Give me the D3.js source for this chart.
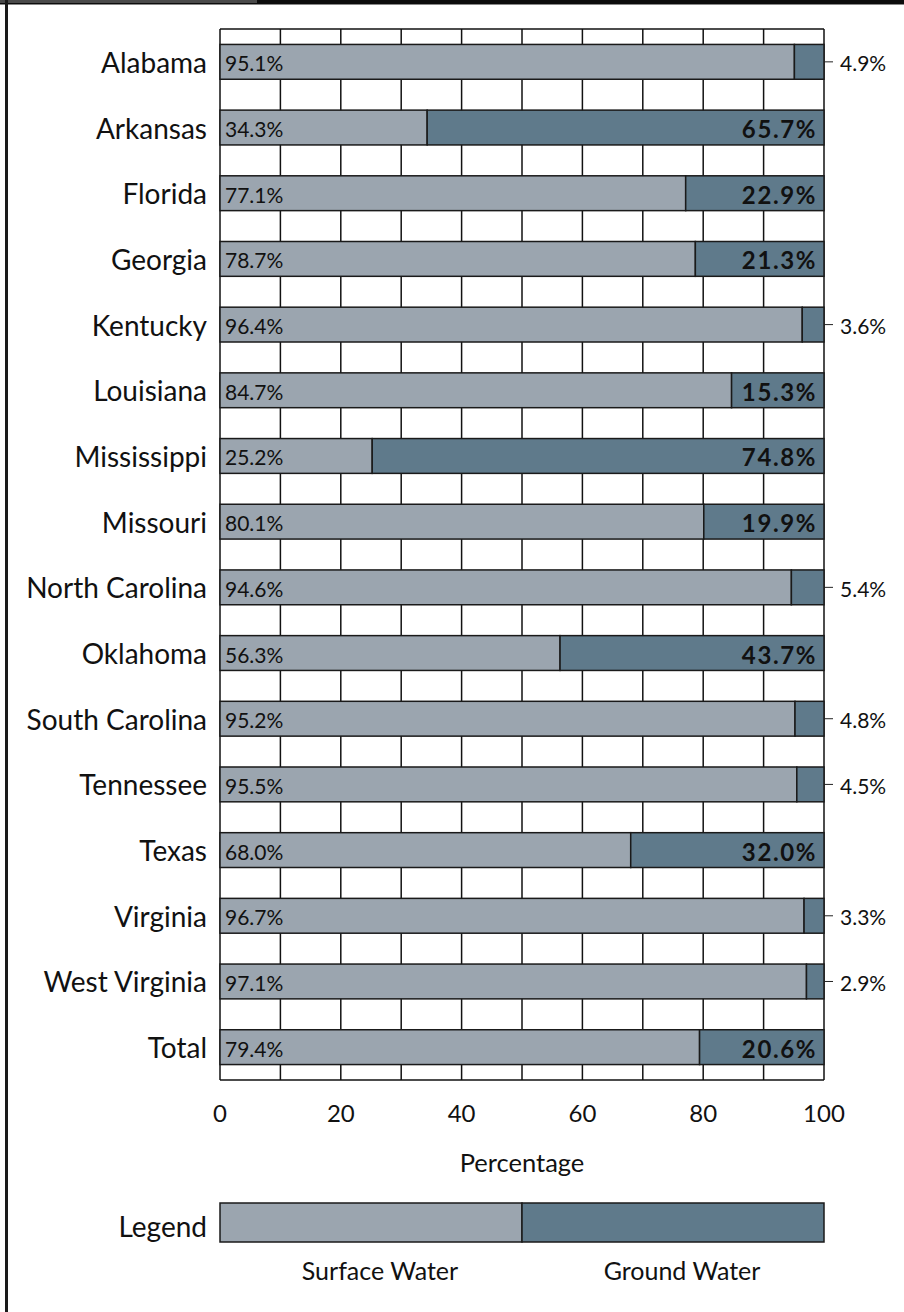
<!DOCTYPE html>
<html>
<head>
<meta charset="utf-8">
<script src="https://cdn.jsdelivr.net/npm/d3@7"></script>
<style>
  html, body { margin: 0; padding: 0; background: #fff; }
  svg { display: block; }
  text { font-family: "Lato", "Open Sans", sans-serif; fill: #111; }
</style>
</head>
<body>
<svg id="chart" width="904" height="1312"></svg>
<script>
// Water withdrawal source shares by state
const states = ["Alabama", "Arkansas", "Florida", "Georgia", "Kentucky", "Louisiana",
  "Mississippi", "Missouri", "North Carolina", "Oklahoma", "South Carolina",
  "Tennessee", "Texas", "Virginia", "West Virginia", "Total"];
const surfaceWater = [95.1, 34.3, 77.1, 78.7, 96.4, 84.7, 25.2, 80.1, 94.6, 56.3, 95.2, 95.5, 68.0, 96.7, 97.1, 79.4];
const groundWater  = [4.9, 65.7, 22.9, 21.3, 3.6, 15.3, 74.8, 19.9, 5.4, 43.7, 4.8, 4.5, 32.0, 3.3, 2.9, 20.6];
const xTicks = [0, 20, 40, 60, 80, 100];
const gridValues = d3.range(0, 101, 10);
const legendItems = ["Surface Water", "Ground Water"];

const colors = { surface: "#9ba5af", ground: "#5f7a8b" };
const svg = d3.select("#chart");

// frame
svg.append("rect").attr("x", 0).attr("y", 0).attr("width", 904).attr("height", 4).attr("fill", "#0c0c0c");
svg.append("rect").attr("x", 0).attr("y", 0).attr("width", 257).attr("height", 3).attr("fill", "#4a4a4a");
svg.append("rect").attr("x", 0).attr("y", 4).attr("width", 904).attr("height", 1).attr("fill", "#888");
svg.append("rect").attr("x", 5).attr("y", 0).attr("width", 3).attr("height", 1312).attr("fill", "#1a1a1a");

const plotLeft = 220, plotRight = 824, plotTop = 29, plotBottom = 1080;
const x = d3.scaleLinear().domain([0, 100]).range([plotLeft, plotRight]);
const y = d3.scaleBand().domain(states).range([plotTop, plotBottom]).paddingInner(0.47).paddingOuter(0.235);

const rows = states.map((s, i) => ({ state: s, sw: surfaceWater[i], gw: groundWater[i] }));

// vertical grid lines
svg.append("g").selectAll("line").data(gridValues).join("line")
  .attr("x1", d => x(d)).attr("x2", d => x(d))
  .attr("y1", plotTop).attr("y2", plotBottom)
  .attr("stroke", "#111").attr("stroke-width", 1.5);

// plot frame top / bottom
svg.append("line").attr("x1", plotLeft).attr("x2", plotRight).attr("y1", plotTop).attr("y2", plotTop)
  .attr("stroke", "#111").attr("stroke-width", 1.5);
svg.append("line").attr("x1", plotLeft).attr("x2", plotRight).attr("y1", plotBottom).attr("y2", plotBottom)
  .attr("stroke", "#111").attr("stroke-width", 1.5);

const bars = svg.append("g");
// surface water segment
bars.selectAll("rect.sw").data(rows).join("rect").attr("class", "sw")
  .attr("x", x(0)).attr("y", d => y(d.state))
  .attr("width", d => x(d.sw) - x(0)).attr("height", y.bandwidth())
  .attr("fill", colors.surface).attr("stroke", "#1a1a1a").attr("stroke-width", 1.5);
// ground water segment
bars.selectAll("rect.gw").data(rows).join("rect").attr("class", "gw")
  .attr("x", d => x(d.sw)).attr("y", d => y(d.state))
  .attr("width", d => x(d.sw + d.gw) - x(d.sw)).attr("height", y.bandwidth())
  .attr("fill", colors.ground).attr("stroke", "#1a1a1a").attr("stroke-width", 1.5);

// state labels
svg.append("g").selectAll("text").data(rows).join("text")
  .attr("x", plotLeft - 13).attr("y", d => y(d.state) + y.bandwidth() / 2)
  .attr("text-anchor", "end").attr("dominant-baseline", "central")
  .attr("font-size", 28).text(d => d.state);

// surface value labels
svg.append("g").selectAll("text").data(rows).join("text")
  .attr("x", x(0) + 5).attr("y", d => y(d.state) + y.bandwidth() / 2 + 1)
  .attr("dominant-baseline", "central")
  .attr("font-size", 21).text(d => d.sw.toFixed(1) + "%");

// ground value labels: inside (bold) when wide enough, outside with a leader otherwise
const inside = rows.filter(d => d.gw >= 10);
const outside = rows.filter(d => d.gw < 10);
svg.append("g").selectAll("text").data(inside).join("text")
  .attr("x", x(100) - 7).attr("y", d => y(d.state) + y.bandwidth() / 2 + 1)
  .attr("text-anchor", "end").attr("dominant-baseline", "central")
  .attr("font-size", 24).attr("font-weight", "bold").attr("letter-spacing", 1.6)
  .text(d => d.gw.toFixed(1) + "%");
const outG = svg.append("g");
outG.selectAll("line").data(outside).join("line")
  .attr("x1", x(100)).attr("x2", x(100) + 9)
  .attr("y1", d => y(d.state) + y.bandwidth() / 2).attr("y2", d => y(d.state) + y.bandwidth() / 2)
  .attr("stroke", "#222").attr("stroke-width", 1);
outG.selectAll("text").data(outside).join("text")
  .attr("x", x(100) + 16).attr("y", d => y(d.state) + y.bandwidth() / 2 + 1)
  .attr("dominant-baseline", "central")
  .attr("font-size", 21).text(d => d.gw.toFixed(1) + "%");

// x axis tick labels
svg.append("g").selectAll("text").data(xTicks).join("text")
  .attr("x", d => x(d)).attr("y", 1112)
  .attr("text-anchor", "middle").attr("dominant-baseline", "central")
  .attr("font-size", 24).text(d => d);

svg.append("text").attr("x", (plotLeft + plotRight) / 2).attr("y", 1162)
  .attr("text-anchor", "middle").attr("dominant-baseline", "central")
  .attr("font-size", 25.5).text("Percentage");

// legend
const lx = d3.scaleBand().domain(legendItems).range([plotLeft, plotRight]);
const legendColors = [colors.surface, colors.ground];
svg.append("g").selectAll("rect").data(legendItems).join("rect")
  .attr("x", d => lx(d)).attr("y", 1203)
  .attr("width", lx.bandwidth()).attr("height", 39)
  .attr("fill", (d, i) => legendColors[i]).attr("stroke", "#1a1a1a").attr("stroke-width", 1.5);
svg.append("text").attr("x", plotLeft - 13).attr("y", 1226)
  .attr("text-anchor", "end").attr("dominant-baseline", "central")
  .attr("font-size", 28).text("Legend");
svg.append("g").selectAll("text").data(legendItems).join("text")
  .attr("x", d => lx(d) + lx.bandwidth() / 2 + 9).attr("y", 1270)
  .attr("text-anchor", "middle").attr("dominant-baseline", "central")
  .attr("font-size", 25).text(d => d);
</script>
</body>
</html>
